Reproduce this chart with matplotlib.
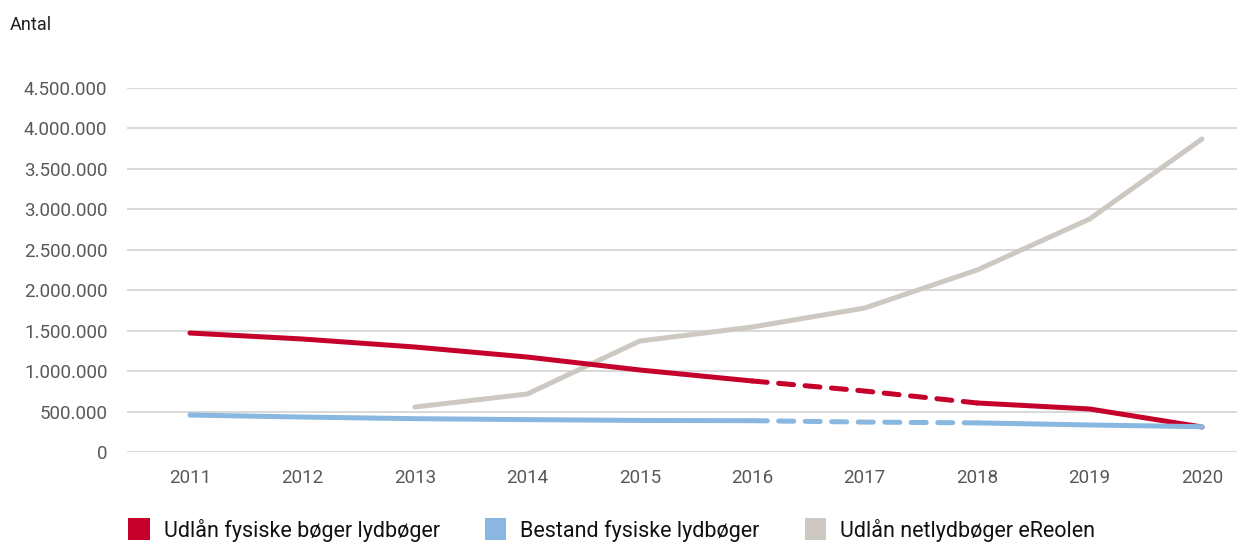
import matplotlib
matplotlib.use("Agg")
import matplotlib.pyplot as plt
from matplotlib.patches import Patch
from matplotlib.ticker import FuncFormatter

plt.rcParams['font.family'] = ['Roboto', 'DejaVu Sans']

aar = ['2011', '2012', '2013', '2014', '2015', '2016', '2017', '2018', '2019', '2020']
udlaan_fysiske = [1471000, 1397000, 1298000, 1174000, 1014000, 878000, 754000, 606000, 532000, 309000]
bestand_fysiske = [457000, 432000, 412000, 400000, 390000, 387000, 370000, 360000, 334000, 313000]
udlaan_ereolen = [None, None, 556000, 717000, 1372000, 1545000, 1780000, 2250000, 2880000, 3870000]

navne = ['Udlån fysiske bøger lydbøger', 'Bestand fysiske lydbøger', 'Udlån netlydbøger eReolen']
farver = ['#c4002b', '#88b7df', '#cdc9c2']

# 2016-2018 er stiplet (estimeret)
stiplet_fra, stiplet_til = 5, 7

fig = plt.figure(figsize=(12.37, 5.46), dpi=100)
ax = fig.add_axes([127 / 1237, 94 / 546, 1110 / 1237, 364 / 546])

x = list(range(len(aar)))
lw = 3.6

# grå linje
xs = [i for i, v in zip(x, udlaan_ereolen) if v is not None]
ys = [v for v in udlaan_ereolen if v is not None]
ax.plot(xs, ys, color=farver[2], lw=lw, solid_capstyle='round', zorder=3)

for serie, farve, z in [(udlaan_fysiske, farver[0], 4), (bestand_fysiske, farver[1], 5)]:
    ax.plot(x[:stiplet_fra + 1], serie[:stiplet_fra + 1], color=farve, lw=lw,
            solid_capstyle='round', zorder=z)
    ax.plot(x[stiplet_fra:stiplet_til + 1], serie[stiplet_fra:stiplet_til + 1], color=farve, lw=lw,
            dashes=(3, 2.3), dash_capstyle='round', zorder=z)
    ax.plot(x[stiplet_til:], serie[stiplet_til:], color=farve, lw=lw,
            solid_capstyle='round', zorder=z)

ax.set_xlim(-0.56, len(aar) - 1 + 0.311)
ax.set_ylim(0, 4500000)
ax.set_yticks(range(0, 4500001, 500000))
ax.yaxis.set_major_formatter(FuncFormatter(lambda v, p: f"{int(v):,}".replace(',', '.')))
ax.set_xticks(x)
ax.set_xticklabels(aar)

ax.grid(axis='y', color='#d6d6d6', lw=1.3)
ax.set_axisbelow(True)
for s in ax.spines.values():
    s.set_visible(False)
ax.tick_params(axis='both', length=0, labelsize=13.5, colors='#595959')
ax.tick_params(axis='y', pad=14)
ax.tick_params(axis='x', pad=12)

fig.text(10 / 1237, 1 - 25 / 546, 'Antal', fontsize=13, color='#222222', va='center', ha='left')

handles = [Patch(facecolor=f, edgecolor='none') for f in farver]
fig.legend(handles, navne, loc='center left', bbox_to_anchor=(128 / 1237, 1 - 530 / 546),
           ncol=3, frameon=False, fontsize=15.5, handlelength=1.0, handleheight=1.2,
           handletextpad=0.65, columnspacing=2.1, labelcolor='#111111',
           borderaxespad=0, borderpad=0)

fig.savefig('out.png', dpi=100)
